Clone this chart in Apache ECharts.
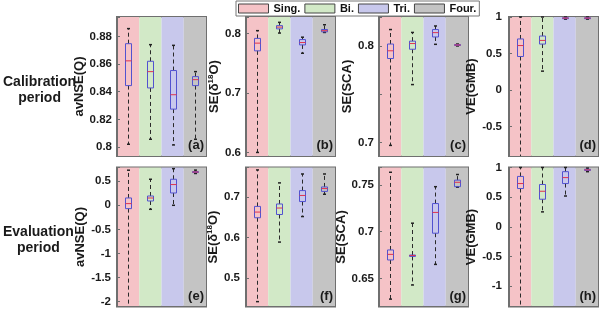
<!DOCTYPE html>
<html><head><meta charset="utf-8">
<script src="https://cdn.jsdelivr.net/npm/echarts@6/dist/echarts.min.js"></script>
<style>html,body{margin:0;padding:0;background:#fff}#c{width:599px;height:309px}</style>
</head><body><div id="c"></div>
<script>
// ---------------- data ----------------
const categories = ['Sing.', 'Bi.', 'Tri.', 'Four.'];
const panelTags = ['(a)', '(b)', '(c)', '(d)', '(e)', '(f)', '(g)', '(h)'];
const yNames = ['avNSE(Q)', 'SE(δ{s|18}O)', 'SE(SCA)', 'VE(GMB)', 'avNSE(Q)', 'SE(δ{s|18}O)', 'SE(SCA)', 'VE(GMB)'];
const rowLabels = ['Calibration\nperiod', 'Evaluation\nperiod'];

// box statistics per category: [min, q1, median, q3, max]
const calAvNSEQ = [[0.802, 0.8444, 0.8623, 0.8747, 0.8856], [0.8056, 0.8427, 0.8545, 0.862, 0.874], [0.8015, 0.8274, 0.8378, 0.8553, 0.8735], [0.8056, 0.8444, 0.8487, 0.8509, 0.8545]];
const calSEO18 = [[0.600, 0.771, 0.784, 0.792, 0.805], [0.801, 0.808, 0.811, 0.8135, 0.819], [0.767, 0.781, 0.785, 0.790, 0.794], [0.802, 0.803, 0.805, 0.807, 0.815]];
const calSESCA = [[0.697, 0.787, 0.795, 0.802, 0.817], [0.760, 0.7966, 0.8025, 0.805, 0.814], [0.8017, 0.8093, 0.8138, 0.817, 0.8207], [0.800, 0.8005, 0.801, 0.8015, 0.802]];
const calVEGMB = [[-1.2, 0.46, 0.61, 0.70, 1.0], [0.26, 0.63, 0.68, 0.74, 1.0], [0.97, 0.98, 0.985, 0.99, 1.0], [0.97, 0.98, 0.985, 0.99, 1.0]];
const evaAvNSEQ = [[-2.4, -0.069, 0.035, 0.152, 0.728], [-0.083, 0.089, 0.151, 0.193, 0.54], [0.0, 0.255, 0.43, 0.54, 0.76], [0.66, 0.68, 0.69, 0.70, 0.73]];
const evaSEO18 = [[0.442, 0.649, 0.663, 0.677, 0.767], [0.589, 0.657, 0.673, 0.683, 0.735], [0.652, 0.689, 0.704, 0.716, 0.757], [0.707, 0.714, 0.721, 0.725, 0.757]];
const evaSESCA = [[0.6279, 0.6697, 0.6757, 0.6804, 0.7634], [0.643, 0.6735, 0.6745, 0.675, 0.709], [0.665, 0.6983, 0.7205, 0.730, 0.748], [0.7475, 0.748, 0.7527, 0.755, 0.761]];
const evaVEGMB = [[-1.6, 0.646, 0.73, 0.85, 1.0], [0.253, 0.466, 0.60, 0.714, 1.0], [0.52, 0.73, 0.83, 0.93, 1.0], [0.93, 0.95, 0.96, 0.97, 0.99]];
const panelStats = [calAvNSEQ, calSEO18, calSESCA, calVEGMB, evaAvNSEQ, evaSEO18, evaSESCA, evaVEGMB];

// y-axis domains and tick labels
const yMins = [0.7935, 0.594, 0.686, -0.9, -2.1, 0.43, 0.62, -1.34];
const yMaxs = [0.894, 0.828, 0.830, 1.0, 0.784, 0.773, 0.7685, 1.0];
const ySplits = [5, 3, 3, 3, 6, 4, 3, 5];
const tickLabels = [
  ['0.8', '0.82', '0.84', '0.86', '0.88'],
  ['0.6', '0.7', '0.8'],
  ['0.7', '0.8'],
  ['-0.5', '0', '0.5', '1'],
  ['-2', '-1.5', '-1', '-0.5', '0', '0.5'],
  ['0.5', '0.6', '0.7'],
  ['0.65', '0.7', '0.75'],
  ['-1', '-0.5', '0', '0.5', '1']
];

// ---------------- layout / style ----------------
const FONT = "'Liberation Sans', Arial, sans-serif";
const bandColors = ['#f5c3c7', '#d2e9c7', '#c8c8ec', '#c4c4c4'];
const gridLefts = [117, 246, 379, 509];
const gridTops = [17, 167.5];
const gridW = 89, gridH = 139;
const nameGaps = [28, 23, 23, 27, 28, 23, 23, 27];
const labelMargins = [5, 5, 5, 7, 6, 6, 5, 7];
const frameColor = '#6f6f6f';

const grids = [], xAxes = [], yAxes = [], series = [], graphics = [];

for (let p = 0; p < 8; p++) {
  const col = p % 4, row = Math.floor(p / 4);
  const left = gridLefts[col], top = gridTops[row];
  grids.push({ left: left, top: top, width: gridW, height: gridH, show: true,
    borderColor: frameColor, borderWidth: 2, backgroundColor: 'transparent' });
  const labs = tickLabels[p];
  const fmt = v => { for (const l of labs) { if (Math.abs(parseFloat(l) - v) < 1e-6) return l; } return ''; };
  xAxes.push({
    gridIndex: p, type: 'category', data: categories, position: 'bottom', z: 5,
    axisLine: { show: true, onZero: false, lineStyle: { color: frameColor, width: 1 } },
    axisTick: { show: false }, axisLabel: { show: false }, splitLine: { show: false }
  });
  yAxes.push({
    gridIndex: p, type: 'value', position: 'left', min: yMins[p], max: yMaxs[p], splitNumber: ySplits[p], z: 5,
    axisLine: { show: true, onZero: false, lineStyle: { color: frameColor, width: 1 } },
    axisTick: { show: true, inside: true, length: 3, lineStyle: { color: frameColor } },
    splitLine: { show: false },
    axisLabel: { show: true, fontSize: 11.5, fontWeight: 'bold', color: '#1a1a1a', fontFamily: FONT, margin: labelMargins[p], formatter: fmt },
    name: yNames[p], nameLocation: 'middle', nameGap: nameGaps[p],
    nameTextStyle: { fontSize: 13, fontWeight: 'bold', color: '#1a1a1a', fontFamily: FONT,
      rich: { s: { fontSize: 8, fontWeight: 'bold', fontFamily: FONT, color: '#1a1a1a', padding: [0, 0, 7, 0] } } }
  });

  // background bands (one series per category, also feeds the legend)
  categories.forEach((cat, c) => {
    series.push({
      type: 'custom', name: cat, xAxisIndex: p, yAxisIndex: p, z: 1, silent: true,
      itemStyle: { color: bandColors[c] },
      encode: { x: 0 },
      data: [[c]],
      renderItem: (params, api) => {
        const cs = params.coordSys;
        const cx = api.coord([api.value(0), yMins[p]])[0];
        const w = api.size([1, 0])[0];
        return { type: 'rect', shape: { x: cx - w / 2, y: cs.y, width: w, height: cs.height },
          style: { fill: bandColors[c] } };
      }
    });
  });

  // box plots
  series.push({
    type: 'custom', name: 'box' + p, xAxisIndex: p, yAxisIndex: p, z: 3, silent: true,
    encode: { x: 0, y: [1, 2, 3, 4, 5] },
    data: panelStats[p].map((s, c) => [c].concat(s)),
    renderItem: (params, api) => {
      const cs = params.coordSys;
      const c = api.value(0);
      const x = Math.round(api.coord([c, api.value(3)])[0]) + 0.5;
      const raw = i => api.coord([c, api.value(i)])[1];
      const clamp = y => Math.max(cs.y, Math.min(cs.y + cs.height, y));
      const yMinR = raw(1), yMaxR = raw(5);
      const yMin = clamp(yMinR), yQ1 = clamp(raw(2)), yMed = clamp(raw(3)), yQ3 = clamp(raw(4)), yMax = clamp(yMaxR);
      const hw = 3, cw = 1.5;
      const dash = { stroke: '#2a2a2a', lineWidth: 1, lineDash: [4, 3], fill: null };
      const capStyle = { stroke: '#222', lineWidth: 1.5 };
      const ch = [
        { type: 'line', shape: { x1: x, y1: yQ3, x2: x, y2: yMax }, style: dash },
        { type: 'line', shape: { x1: x, y1: yQ1, x2: x, y2: yMin }, style: dash }
      ];
      if (yMaxR >= cs.y) ch.push({ type: 'line', shape: { x1: x - cw, y1: yMax, x2: x + cw, y2: yMax }, style: capStyle });
      if (yMinR <= cs.y + cs.height) ch.push({ type: 'line', shape: { x1: x - cw, y1: yMin, x2: x + cw, y2: yMin }, style: capStyle });
      ch.push({ type: 'rect', shape: { x: x - hw, y: yQ3, width: 2 * hw, height: Math.max(yQ1 - yQ3, 1) },
        style: { fill: null, stroke: '#5252d0', lineWidth: 1 } });
      ch.push({ type: 'line', shape: { x1: x - hw, y1: yMed, x2: x + hw, y2: yMed }, style: { stroke: '#e0334f', lineWidth: 1 } });
      return { type: 'group', children: ch };
    }
  });

  graphics.push({ type: 'text', right: 599 - (left + gridW) + 2, top: top + gridH - 17, z: 10,
    style: { text: panelTags[p], font: "bold 13px " + FONT, fill: '#1a1a1a' } });
}

rowLabels.forEach((t, r) => graphics.push({
  type: 'text', left: 3, top: r === 0 ? 74 : 224, z: 10,
  style: { text: t, font: "bold 14px " + FONT, fill: '#1a1a1a', textAlign: 'center', lineHeight: 16, x: 37 }
}));

const chart = echarts.init(document.getElementById('c'), null, { renderer: 'canvas' });
chart.setOption({
  animation: false,
  backgroundColor: '#ffffff',
  legend: {
    left: 236, top: 1, data: categories, icon: 'rect', itemWidth: 30, itemHeight: 9, itemGap: 4,
    padding: [2, 3, 2, 2], borderColor: '#777', borderWidth: 1, borderRadius: 0, selectedMode: false,
    itemStyle: { borderColor: '#444', borderWidth: 1 },
    textStyle: { fontSize: 11, fontWeight: 'bold', fontFamily: FONT, color: '#111' }
  },
  grid: grids, xAxis: xAxes, yAxis: yAxes, series: series, graphic: graphics
});
</script></body></html>
